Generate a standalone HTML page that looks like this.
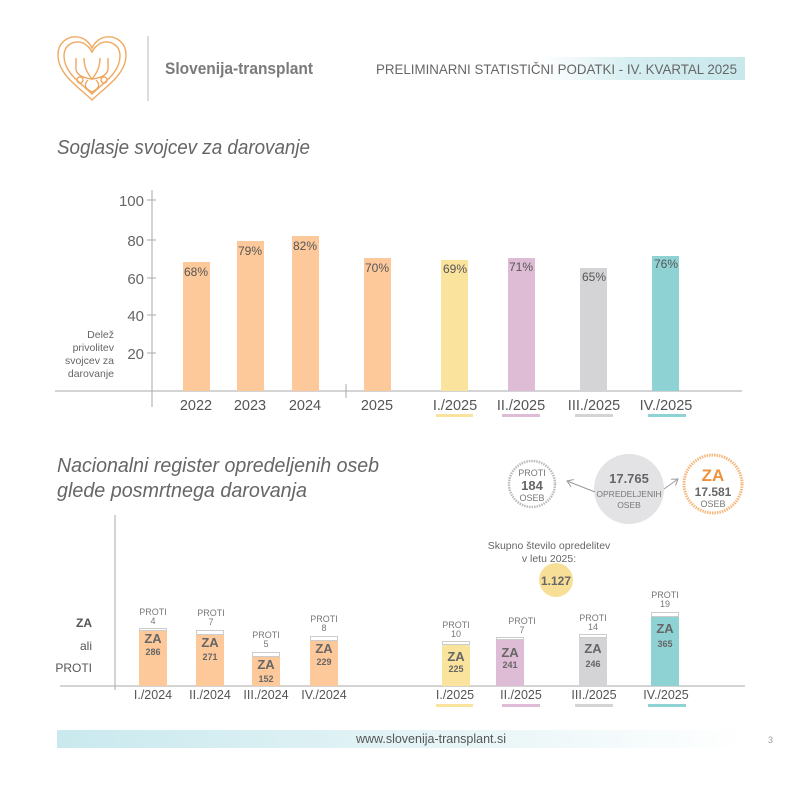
<!DOCTYPE html>
<html><head><meta charset="utf-8"><style>
body{margin:0;background:#fff;}
svg{display:block;font-family:"Liberation Sans",sans-serif;}
</style></head><body>
<svg width="800" height="800" viewBox="0 0 800 800" xmlns="http://www.w3.org/2000/svg">
<defs>
<linearGradient id="hg" x1="0" x2="1"><stop offset="0" stop-color="#fff"/><stop offset="0.45" stop-color="#d6eef1"/><stop offset="1" stop-color="#c8e8ec"/></linearGradient>
<linearGradient id="fg" x1="0" x2="1"><stop offset="0" stop-color="#c9e9ee"/><stop offset="0.6" stop-color="#e8f5f7"/><stop offset="1" stop-color="#fff"/></linearGradient>
<marker id="ar" markerWidth="8" markerHeight="8" refX="6" refY="4" orient="auto"><path d="M0,0 L6,4 L0,8" fill="none" stroke="#999" stroke-width="1"/></marker>
</defs>
<!-- logo -->
<g fill="none" stroke="#f0a860" stroke-width="1.4">
<path d="M92,100 C80,88 58,75 58,55 C58,40 72,34 82,38 C87,40 90,44 92,48 C94,44 97,40 102,38 C112,34 126,40 126,55 C126,75 104,88 92,100 Z"/>
<path d="M92,94 C82,84 64,73 64,56 C64,44 75,40 83,43 C87,45 90,48 92,52 C94,48 97,45 101,43 C109,40 120,44 120,56 C120,73 102,84 92,94 Z"/>
<path d="M76,58 L76,70 C78,76 84,78 92,79 C100,78 106,76 108,70 L108,58"/>
<path d="M84,58 C84,68 88,74 92,79 C96,74 100,68 100,58"/>
<path d="M88,80 C84,84 84,88 92,92 C100,88 100,84 96,80"/>
<circle cx="80" cy="80" r="3"/><circle cx="104" cy="80" r="3"/>
</g>
<line x1="148" y1="36" x2="148" y2="101" stroke="#bbb" stroke-width="1"/>
<text x="165" y="74" font-size="17" font-weight="bold" fill="#7a7a7a" textLength="148" lengthAdjust="spacingAndGlyphs">Slovenija-transplant</text>
<rect x="540" y="57" width="205" height="23" fill="url(#hg)"/>
<text x="376" y="74" font-size="14" fill="#666" textLength="361" lengthAdjust="spacingAndGlyphs">PRELIMINARNI STATISTIČNI PODATKI - IV. KVARTAL 2025</text>

<text x="57" y="154" font-size="20" font-style="italic" fill="#666" textLength="253" lengthAdjust="spacingAndGlyphs">Soglasje svojcev za darovanje</text>

<!-- top chart axes -->
<g stroke="#aaa" stroke-width="1">
<line x1="152" y1="190" x2="152" y2="407"/>
<line x1="55" y1="391" x2="742" y2="391"/>
<line x1="147" y1="200" x2="156" y2="200"/><line x1="147" y1="240" x2="156" y2="240"/>
<line x1="147" y1="278" x2="156" y2="278"/><line x1="147" y1="315" x2="156" y2="315"/>
<line x1="147" y1="353" x2="156" y2="353"/>
<line x1="346" y1="384" x2="346" y2="398"/>
</g>
<g font-size="15" fill="#666" text-anchor="end">
<text x="144" y="206">100</text><text x="144" y="246">80</text><text x="144" y="284">60</text><text x="144" y="321">40</text><text x="144" y="359">20</text>
</g>
<g font-size="10.5" fill="#666" text-anchor="end">
<text x="114" y="338">Delež</text><text x="114" y="351">privolitev</text><text x="114" y="364">svojcev za</text><text x="114" y="377">darovanje</text>
</g>
<g>
<rect x="183" y="262" width="27" height="129" fill="#fdc99b"/>
<rect x="237" y="241" width="27" height="150" fill="#fdc99b"/>
<rect x="292" y="236" width="27" height="155" fill="#fdc99b"/>
<rect x="364" y="258" width="27" height="133" fill="#fdc99b"/>
<rect x="441" y="260" width="27" height="131" fill="#fae39c"/>
<rect x="508" y="258" width="27" height="133" fill="#dfbcd5"/>
<rect x="580" y="268" width="27" height="123" fill="#d4d4d6"/>
<rect x="652" y="256" width="27" height="135" fill="#8fd2d4"/>
</g>
<g font-size="12" fill="#555" text-anchor="middle">
<text x="196" y="276">68%</text><text x="250" y="255">79%</text><text x="305" y="250">82%</text><text x="377" y="272">70%</text>
<text x="455" y="273">69%</text><text x="521" y="271">71%</text><text x="594" y="281">65%</text><text x="666" y="268">76%</text>
</g>
<g font-size="14.5" fill="#555" text-anchor="middle">
<text x="196" y="410">2022</text><text x="250" y="410">2023</text><text x="305" y="410">2024</text><text x="377" y="410">2025</text>
<text x="455" y="410">I./2025</text><text x="521" y="410">II./2025</text><text x="594" y="410">III./2025</text><text x="666" y="410">IV./2025</text>
</g>
<rect x="436" y="414" width="37" height="3" fill="#fae39c"/>
<rect x="502" y="414" width="38" height="3" fill="#dfbcd5"/>
<rect x="575" y="414" width="38" height="3" fill="#d4d4d6"/>
<rect x="648" y="414" width="38" height="3" fill="#8fd2d4"/>

<text x="57" y="472" font-size="20" font-style="italic" fill="#666" textLength="322" lengthAdjust="spacingAndGlyphs">Nacionalni register opredeljenih oseb</text>
<text x="57" y="497" font-size="20" font-style="italic" fill="#666" textLength="250" lengthAdjust="spacingAndGlyphs">glede posmrtnega darovanja</text>

<!-- circles -->
<circle cx="532" cy="484" r="23" fill="#fff" stroke="#bbb" stroke-width="2.5" stroke-dasharray="1.5 1"/>
<text x="532" y="476" font-size="9" fill="#777" text-anchor="middle">PROTI</text>
<text x="532" y="490" font-size="13" font-weight="bold" fill="#666" text-anchor="middle">184</text>
<text x="532" y="501" font-size="9" fill="#777" text-anchor="middle">OSEB</text>
<circle cx="629" cy="489" r="35" fill="#e3e3e5"/>
<text x="629" y="483" font-size="13" font-weight="bold" fill="#666" text-anchor="middle">17.765</text>
<text x="629" y="497" font-size="8.5" fill="#777" text-anchor="middle">OPREDELJENIH</text>
<text x="629" y="508" font-size="8.5" fill="#777" text-anchor="middle">OSEB</text>
<line x1="595" y1="492" x2="567" y2="481" stroke="#999" stroke-width="1" marker-end="url(#ar)"/>
<line x1="664" y1="489" x2="678" y2="479" stroke="#999" stroke-width="1" marker-end="url(#ar)"/>
<circle cx="713" cy="484" r="29" fill="#fff" stroke="#f6b77a" stroke-width="3" stroke-dasharray="1.5 1"/>
<text x="713" y="481" font-size="17" font-weight="bold" fill="#f0913a" text-anchor="middle">ZA</text>
<text x="713" y="496" font-size="12" font-weight="bold" fill="#666" text-anchor="middle">17.581</text>
<text x="713" y="507" font-size="9" fill="#777" text-anchor="middle">OSEB</text>
<text x="549" y="549" font-size="10.5" fill="#666" text-anchor="middle">Skupno število opredelitev</text>
<text x="549" y="562" font-size="10.5" fill="#666" text-anchor="middle">v letu 2025:</text>
<circle cx="556" cy="580" r="17" fill="#f8df98"/>
<text x="556" y="585" font-size="12" font-weight="bold" fill="#666" text-anchor="middle">1.127</text>

<!-- bottom chart -->
<g stroke="#aaa" stroke-width="1">
<line x1="115" y1="515" x2="115" y2="690"/>
<line x1="60" y1="686" x2="745" y2="686"/>
</g>
<text x="92" y="627" font-size="12" font-weight="bold" fill="#555" text-anchor="end">ZA</text>
<text x="92" y="650" font-size="12" fill="#555" text-anchor="end">ali</text>
<text x="92" y="672" font-size="12" fill="#555" text-anchor="end">PROTI</text>
<g stroke="#ccc" stroke-width="1">
<rect x="139.5" y="628.5" width="27" height="2" fill="#fff"/>
<rect x="196.5" y="630.5" width="27" height="4" fill="#fff"/>
<rect x="252.5" y="652.5" width="27" height="4" fill="#fff"/>
<rect x="310.5" y="636.5" width="27" height="4" fill="#fff"/>
<rect x="442.5" y="641.5" width="27" height="3" fill="#fff"/>
<rect x="496.5" y="637.5" width="27" height="2" fill="#fff"/>
<rect x="579.5" y="634.5" width="27" height="3" fill="#fff"/>
<rect x="651.5" y="612.5" width="27" height="4" fill="#fff"/>
</g>
<rect x="139" y="631" width="28" height="55" fill="#fdc99b"/>
<rect x="196" y="635" width="28" height="51" fill="#fdc99b"/>
<rect x="252" y="657" width="28" height="29" fill="#fdc99b"/>
<rect x="310" y="641" width="28" height="45" fill="#fdc99b"/>
<rect x="442" y="645" width="28" height="41" fill="#fae39c"/>
<rect x="496" y="640" width="28" height="46" fill="#dfbcd5"/>
<rect x="579" y="638" width="28" height="48" fill="#d4d4d6"/>
<rect x="651" y="617" width="28" height="69" fill="#8fd2d4"/>
<g font-size="13" font-weight="bold" fill="#666" text-anchor="middle">
<text x="153" y="643">ZA</text><text x="210" y="647">ZA</text><text x="266" y="669">ZA</text><text x="324" y="653">ZA</text>
<text x="456" y="661">ZA</text><text x="510" y="657">ZA</text><text x="593" y="653">ZA</text><text x="665" y="633">ZA</text>
</g>
<g font-size="9" font-weight="bold" fill="#666" text-anchor="middle">
<text x="153" y="655">286</text><text x="210" y="660">271</text><text x="266" y="682">152</text><text x="324" y="665">229</text>
<text x="456" y="672">225</text><text x="510" y="668">241</text><text x="593" y="667">246</text><text x="665" y="647">365</text>
</g>
<g font-size="9" fill="#777" text-anchor="middle">
<text x="153" y="615">PROTI</text><text x="153" y="624">4</text>
<text x="211" y="616">PROTI</text><text x="211" y="625">7</text>
<text x="266" y="638">PROTI</text><text x="266" y="647">5</text>
<text x="324" y="622">PROTI</text><text x="324" y="631">8</text>
<text x="456" y="628">PROTI</text><text x="456" y="637">10</text>
<text x="522" y="624">PROTI</text><text x="522" y="633">7</text>
<text x="593" y="621">PROTI</text><text x="593" y="630">14</text>
<text x="665" y="598">PROTI</text><text x="665" y="607">19</text>
</g>
<g font-size="12.5" fill="#555" text-anchor="middle">
<text x="153" y="699">I./2024</text><text x="210" y="699">II./2024</text><text x="266" y="699">III./2024</text><text x="324" y="699">IV./2024</text>
<text x="455" y="699">I./2025</text><text x="521" y="699">II./2025</text><text x="594" y="699">III./2025</text><text x="666" y="699">IV./2025</text>
</g>
<rect x="436" y="704" width="37" height="3" fill="#fae39c"/>
<rect x="502" y="704" width="38" height="3" fill="#dfbcd5"/>
<rect x="575" y="704" width="38" height="3" fill="#d4d4d6"/>
<rect x="648" y="704" width="38" height="3" fill="#8fd2d4"/>

<rect x="57" y="730" width="688" height="18" fill="url(#fg)"/>
<text x="431" y="743" font-size="12.5" fill="#555" text-anchor="middle">www.slovenija-transplant.si</text>
<text x="768" y="743" font-size="9" fill="#999">3</text>
</svg>
</body></html>
